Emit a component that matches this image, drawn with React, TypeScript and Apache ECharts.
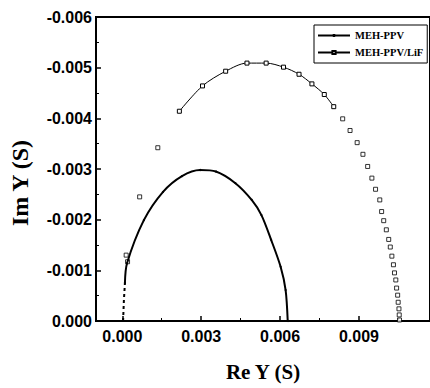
import React, { useEffect, useRef } from "react";
import * as echarts from "echarts";

const xMajorTicks = [0, 0.003, 0.006, 0.009];
const xMinorTicks = [0.0015, 0.0045, 0.0075, 0.0105];

// MEH-PPV (Re Y, Im Y)
const mehPpvLine = [
  [0.0001, -0.00075], [0.00018, -0.00114], [0.00082, -0.00199],
  [0.00155, -0.00255], [0.00227, -0.00286], [0.00296, -0.00298], [0.00356, -0.00295],
  [0.0043, -0.00272], [0.00492, -0.00239], [0.00529, -0.00209],
  [0.00566, -0.0016], [0.00602, -0.00107], [0.00621, -0.00061], [0.00629, 0],
];
const mehPpvLow = [[0.00003, 0], [0.00006, -0.0004], [0.0001, -0.00075]];

// MEH-PPV/LiF
const lifLine = [
  [0.00217, -0.00414], [0.00305, -0.00464], [0.00393, -0.00493], [0.00474, -0.00509],
  [0.00547, -0.00509], [0.00613, -0.00501], [0.00672, -0.00487], [0.00721, -0.00468],
  [0.00768, -0.00447], [0.00804, -0.00423],
];
const lifPoints = [
  [0.000147, -0.0013], [0.0002, -0.00117], [0.00066, -0.00245], [0.00135, -0.00342],
  [0.00838, -0.00399], [0.00866, -0.00376], [0.00893, -0.00352], [0.00915, -0.00329],
  [0.00933, -0.00305], [0.00949, -0.00282], [0.00963, -0.0026], [0.00979, -0.00239],
  [0.00986, -0.00216], [0.00994, -0.00198], [0.01004, -0.0018], [0.01013, -0.00161],
  [0.01019, -0.00146], [0.01025, -0.00128], [0.01031, -0.00111], [0.01035, -0.00095],
  [0.0104, -0.00081], [0.01043, -0.00065], [0.01047, -0.00051], [0.01049, -0.00037],
  [0.01052, -0.00024], [0.01053, -0.00012], [0.01054, -0.00002],
];

const sans = "Liberation Sans";
const serif = "Liberation Serif";

export default function App() {
  const ref = useRef<HTMLDivElement>(null);
  useEffect(() => {
    const chart = echarts.init(ref.current!, null, { renderer: "svg" });
    const xMin = -0.001;
    const xMax = 0.0117;
    chart.setOption({
      animation: false,
      backgroundColor: "#fff",
      grid: {
        left: 94, right: -10, top: 17, bottom: 67,
        show: true, borderColor: "#000", borderWidth: 2,
      },
      legend: {
        data: ["MEH-PPV", "MEH-PPV/LiF"],
        orient: "vertical",
        left: 314, top: 25,
        padding: [5, 4, 5, 3],
        itemGap: 6,
        itemWidth: 32,
        itemHeight: 4,
        borderColor: "#000",
        borderWidth: 1,
        backgroundColor: "#fff",
        selectedMode: false,
        textStyle: { fontFamily: serif, fontWeight: "bold", fontSize: 10.5, color: "#000" },
      },
      xAxis: [
        {
          type: "value", min: xMin, max: xMax, position: "bottom",
          name: "Re Y (S)", nameLocation: "middle", nameGap: 40,
          nameTextStyle: { fontFamily: serif, fontWeight: "bold", fontSize: 21, color: "#000" },
          axisLine: { show: true, onZero: false, lineStyle: { color: "#000", width: 2 } },
          axisTick: { show: true, inside: true, length: 5, customValues: xMajorTicks, lineStyle: { color: "#000", width: 1.5 } },
          axisLabel: {
            customValues: xMajorTicks, margin: 7,
            fontFamily: sans, fontWeight: "bold", fontSize: 16, color: "#000",
            formatter: (v: number) => v.toFixed(3),
          },
          splitLine: { show: false },
        },
        {
          type: "value", min: xMin, max: xMax, position: "bottom",
          axisLine: { show: false, onZero: false },
          axisTick: { show: true, inside: true, length: 3, customValues: xMinorTicks, lineStyle: { color: "#000", width: 1 } },
          axisLabel: { show: false },
          splitLine: { show: false },
        },
      ],
      yAxis: {
        type: "value", min: -0.006, max: 0, interval: 0.001, inverse: true,
        name: "Im Y (S)", nameLocation: "middle", nameGap: 64,
        nameTextStyle: { fontFamily: serif, fontWeight: "bold", fontSize: 24, color: "#000", padding: [0, 28, 0, 0] },
        axisLine: { show: true, onZero: false, lineStyle: { color: "#000", width: 2 } },
        axisTick: { show: true, inside: true, length: 5, lineStyle: { color: "#000", width: 1.5 } },
        minorTick: { show: true, splitNumber: 2, length: 3, lineStyle: { color: "#000", width: 1 } },
        axisLabel: {
          margin: 4,
          fontFamily: sans, fontWeight: "bold", fontSize: 16, color: "#000",
          formatter: (v: number) => v.toFixed(3),
        },
        splitLine: { show: false },
      },
      series: [
        {
          name: "MEH-PPV", type: "line", data: mehPpvLine, smooth: 0.3,
          symbol: "circle", symbolSize: 2, showSymbol: true,
          itemStyle: { color: "#000" },
          lineStyle: { color: "#000", width: 2 },
        },
        {
          name: "MEH-PPV low", type: "line", data: mehPpvLow,
          symbol: "none",
          lineStyle: { color: "#000", width: 2, type: [3, 3] },
        },
        {
          name: "MEH-PPV/LiF", type: "line", data: lifLine, smooth: 0.3,
          symbol: "rect", symbolSize: 4, showSymbol: true,
          itemStyle: { color: "#fff", borderColor: "#000", borderWidth: 1 },
          lineStyle: { color: "#000", width: 1 },
        },
        {
          name: "MEH-PPV/LiF pts", type: "scatter", data: lifPoints,
          symbol: "rect", symbolSize: 4,
          itemStyle: { color: "#fff", borderColor: "#000", borderWidth: 1 },
        },
      ],
    });
    return () => chart.dispose();
  }, []);
  return <div ref={ref} style={{ position: "absolute", left: 0, top: 0, width: 430, height: 388 }} />;
}
